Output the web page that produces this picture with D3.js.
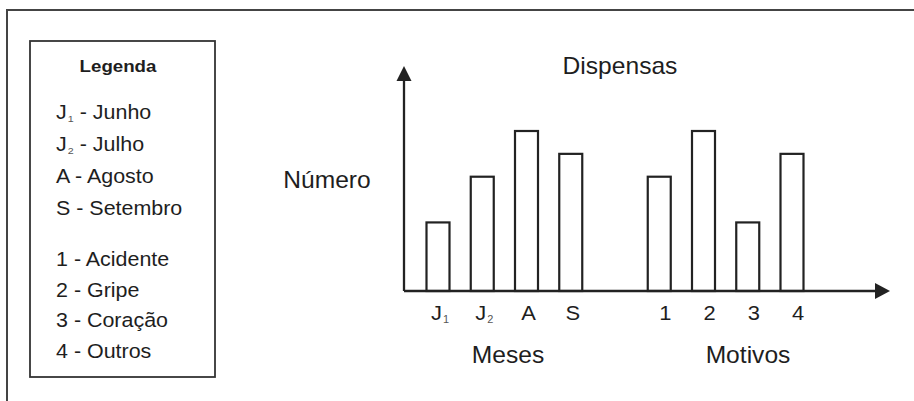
<!DOCTYPE html>
<html lang="pt">
<head>
  <meta charset="UTF-8">
  <title>Dispensas</title>
  <script src="https://d3js.org/d3.v7.min.js"></script>
  <style>
    body { margin:0; background:#fff; overflow:hidden; }
    svg { display:block; }
    text { font-family: "Liberation Sans", Arial, sans-serif; fill:#1e1e1e; }
  </style>
</head>
<body>
<svg id="chart" width="914" height="401"></svg>
<script>
// dados
const months = ["J1", "J2", "A", "S"];
const monthNames = ["Junho", "Julho", "Agosto", "Setembro"];
const monthValues = [3, 5, 7, 6];

const motives = ["1", "2", "3", "4"];
const motiveNames = ["Acidente", "Gripe", "Coração", "Outros"];
const motiveValues = [5, 7, 3, 6];

const svg = d3.select('#chart');
const ink = '#222';

// escreve um texto (com índice opcional, ex. J1 -> J com 1 subscrito)
function label(parent, x, y, str, size, anchor, weight, sx) {
  const t = parent.append('text')
    .attr('transform', `translate(${x},${y}) scale(${sx || 1.07},1)`)
    .attr('font-size', size)
    .attr('text-anchor', anchor || 'start')
    .attr('font-weight', weight || 'normal');
  const m = str.match(/^J(\d)(.*)$/);
  if (m) {
    t.append('tspan').text('J');
    t.append('tspan').attr('font-size', size * 0.5).attr('dx', 1).attr('dy', 3).attr('fill', '#555').text(m[1]);
    if (m[2]) t.append('tspan').attr('dy', -3).text(m[2]);
  } else {
    t.text(str);
  }
  return t;
}

// moldura externa (só topo e esquerda aparecem)
svg.append('path')
  .attr('d', 'M7,401 V10 H914')
  .attr('fill', 'none')
  .attr('stroke', '#444')
  .attr('stroke-width', 2);

// 1) legenda
const leg = svg.append('g');
leg.append('rect')
  .attr('x', 30).attr('y', 41)
  .attr('width', 185).attr('height', 336)
  .attr('fill', 'none')
  .attr('stroke', '#333')
  .attr('stroke-width', 1.8);
label(leg, 118, 72, 'Legenda', 17, 'middle', 'bold', 1.1);
months.forEach((m, i) => label(leg, 56, 119 + i * 32, m + ' - ' + monthNames[i], 19.5, 'start', 'normal', 1.1));
motives.forEach((m, i) => label(leg, 56, 266 + i * 30.5, m + ' - ' + motiveNames[i], 19.5, 'start', 'normal', 1.1));

// 2) escalas
const slots = [...months, 'gap', ...motives];
const x = d3.scalePoint().domain(slots).range([438, 792]);
const y = d3.scaleLinear().domain([0, 7]).range([291, 131]);
const barW = 23;
const axisX = 404, axisTop = 66, axisRight = 890;

const bars = months.map((k, i) => ({ key: k, value: monthValues[i] }))
  .concat(motives.map((k, i) => ({ key: k, value: motiveValues[i] })));

// 3) barras
svg.append('g')
  .selectAll('rect')
  .data(bars)
  .join('rect')
  .attr('x', d => x(d.key) - barW / 2)
  .attr('y', d => y(d.value))
  .attr('width', barW)
  .attr('height', d => y(0) - y(d.value))
  .attr('fill', '#fff')
  .attr('stroke', ink)
  .attr('stroke-width', 2.2);

// 4) eixos com setas
const axes = svg.append('g');
axes.append('line')
  .attr('x1', axisX).attr('y1', y(0))
  .attr('x2', axisX).attr('y2', axisTop + 10)
  .attr('stroke', ink).attr('stroke-width', 2.3);
axes.append('line')
  .attr('x1', axisX).attr('y1', y(0))
  .attr('x2', axisRight - 10).attr('y2', y(0))
  .attr('stroke', ink).attr('stroke-width', 2.3);
axes.append('path')
  .attr('d', `M${axisX},${axisTop} L${axisX - 7.5},${axisTop + 15} L${axisX + 7.5},${axisTop + 15} Z`)
  .attr('fill', ink);
axes.append('path')
  .attr('d', `M${axisRight},${y(0)} L${axisRight - 15},${y(0) - 8} L${axisRight - 15},${y(0) + 8} Z`)
  .attr('fill', ink);

// 5) rótulos das categorias
const ticks = svg.append('g');
months.forEach(k => label(ticks, x(k) + 2, 319.5, k, 20.5, 'middle'));
motives.forEach(k => label(ticks, x(k) + 6, 319.5, k, 20.5, 'middle'));

// 6) títulos
label(svg, 620, 74, 'Dispensas', 23, 'middle');
label(svg, 327, 188, 'Número', 23, 'middle');
label(svg, 508, 363, 'Meses', 23, 'middle');
label(svg, 748, 363, 'Motivos', 23, 'middle');
</script>
</body>
</html>
